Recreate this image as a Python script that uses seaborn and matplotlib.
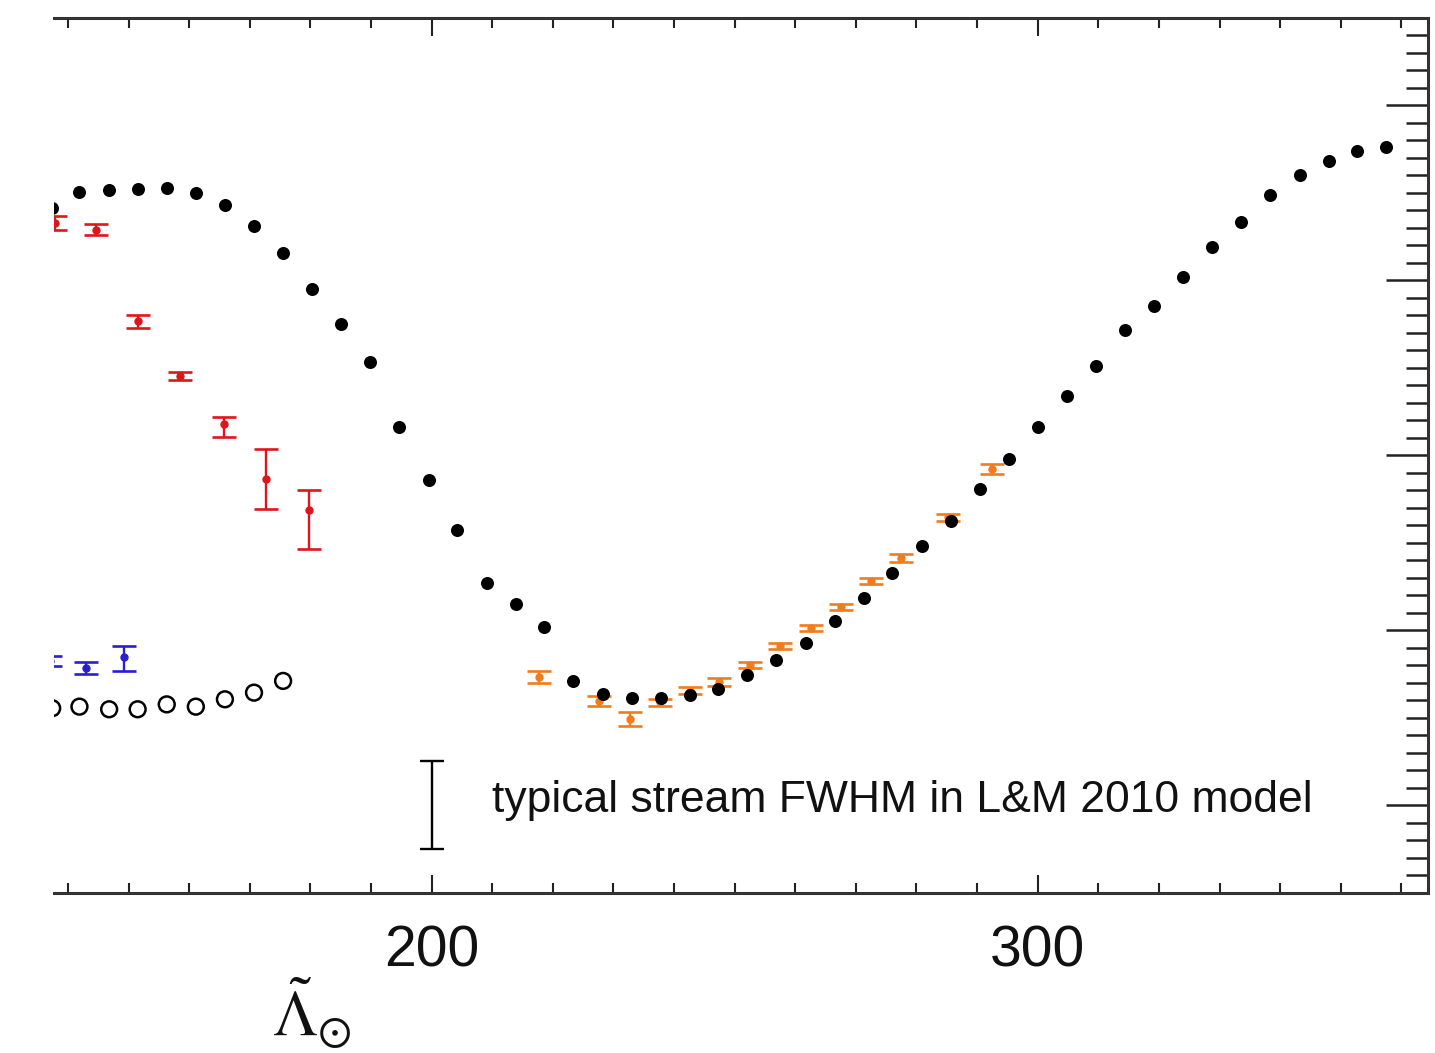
import numpy as np
import matplotlib
matplotlib.use("Agg")
import matplotlib.pyplot as plt
from matplotlib.ticker import MultipleLocator
import seaborn as sns

# Sgr stream track: main-stream positions (filled) and faint branch (open)
lam_main = [137.4, 141.9, 146.8, 151.5, 156.4, 161.2, 165.9, 170.7, 175.5, 180.2,
            185.0, 189.8, 194.6, 199.5, 204.2, 209.1, 213.9, 218.5, 223.4, 228.3,
            233.0, 237.8, 242.6, 247.3, 252.1, 256.9, 261.7, 266.6, 271.4, 276.0,
            280.9, 285.7, 290.5, 295.3, 300.1, 304.9, 309.6, 314.4, 319.2, 324.0,
            328.8, 333.6, 338.4, 343.2, 348.0, 352.7, 357.5]
val_main = [14.1, 15.03, 15.13, 15.2, 15.24, 14.99, 14.29, 13.1, 11.56, 9.47,
            7.49, 5.31, 1.6, -1.43, -4.29, -7.31, -8.51, -9.81, -12.91, -13.66,
            -13.9, -13.9, -13.71, -13.39, -12.57, -11.71, -10.77, -9.47, -8.19, -6.73,
            -5.18, -3.75, -1.96, -0.25, 1.6, 3.37, 5.09, 7.14, 8.51, 10.17,
            11.89, 13.31, 14.86, 16.0, 16.8, 17.37, 17.6]

lam_open = [137.4, 141.9, 146.8, 151.5, 156.3, 161.1, 165.9, 170.7, 175.5]
val_open = [-14.47, -14.38, -14.53, -14.53, -14.25, -14.38, -13.96, -13.58, -12.91]

# Measured stream positions with uncertainties
lam_red = [137.9, 144.6, 151.6, 158.5, 165.7, 172.7, 179.7]
val_red = [13.26, 12.86, 7.67, 4.51, 1.77, -1.37, -3.14]
err_red_lo = [0.40, 0.29, 0.43, 0.24, 0.76, 1.73, 2.25]
err_red_hi = [0.40, 0.33, 0.33, 0.24, 0.38, 1.70, 1.14]

lam_blue = [137.1, 143.0, 149.2]
val_blue = [-11.77, -12.15, -11.56]
err_blue_lo = [0.29, 0.36, 0.78]
err_blue_hi = [0.29, 0.31, 0.65]

lam_orange = [217.7, 227.7, 232.7, 237.7, 242.6, 247.4, 252.6, 257.5, 262.6, 267.5,
              272.5, 277.4, 285.2, 292.5]
val_orange = [-12.70, -14.04, -15.10, -14.13, -13.47, -12.95, -12.0, -10.90, -9.87, -8.71,
              -7.18, -5.87, -3.56, -0.80]
err_orange = [0.34, 0.29, 0.40, 0.20, 0.19, 0.23, 0.19, 0.17, 0.17, 0.17,
              0.17, 0.23, 0.19, 0.31]

# Typical model stream width marker
fwhm_lam = [200.0]
fwhm_val = [-20.0]
fwhm_half = [2.5]
fwhm_text = "typical stream FWHM in L&M 2010 model"

sns.set_theme(style="ticks")
plt.rcParams["font.family"] = ["Liberation Sans", "DejaVu Sans"]
plt.rcParams["mathtext.fontset"] = "stix"

W, H = 1435, 1053
fig = plt.figure(figsize=(W / 100, H / 100), dpi=100)
fig.patch.set_facecolor("white")
x0, x1, y_top, y_bot = 54, 1428, 17.5, 892.5
ax = fig.add_axes([x0 / W, 1 - y_bot / H, (x1 - x0) / W, (y_bot - y_top) / H])
ax.set_facecolor("white")

ebkw = dict(fmt="o", ms=5, capsize=8.5, capthick=1.9, elinewidth=1.7)
ax.errorbar(lam_red, val_red, yerr=[err_red_lo, err_red_hi], color="#e0141b", **ebkw)
ax.errorbar(lam_blue, val_blue, yerr=[err_blue_lo, err_blue_hi], color="#2a1fd0", **ebkw)
ax.errorbar(lam_orange, val_orange, yerr=err_orange, color="#f07c1e", **ebkw)

sns.scatterplot(x=lam_open, y=val_open, ax=ax, marker="o", s=130,
                facecolor="none", edgecolor="black", linewidth=1.8, zorder=4)
sns.scatterplot(x=lam_main, y=val_main, ax=ax, marker="o", s=88,
                color="black", edgecolor="black", linewidth=0, zorder=5)

ax.errorbar(fwhm_lam, fwhm_val, yerr=fwhm_half, fmt="none", color="black",
            capsize=8.5, capthick=1.7, elinewidth=1.7)
ax.text(210.0, -19.75, fwhm_text, fontsize=32, ha="left", va="center", color="#111111")

ax.set_xlim(137.7, 364.4)
ax.set_ylim(-25, 25)

ax.xaxis.set_major_locator(MultipleLocator(100))
ax.xaxis.set_minor_locator(MultipleLocator(10))
ax.yaxis.set_major_locator(MultipleLocator(10))
ax.yaxis.set_minor_locator(MultipleLocator(1))

ax.tick_params(axis="x", which="both", direction="in", top=True, bottom=True,
               labelsize=41, pad=23, color="#222222", labelcolor="#111111")
ax.tick_params(axis="x", which="major", length=13, width=1.5)
ax.tick_params(axis="x", which="minor", length=7, width=1.5)
ax.tick_params(axis="y", which="both", direction="in", left=False, right=True,
               labelleft=False, labelright=False, color="#222222")
ax.tick_params(axis="y", which="major", length=30, width=1.8)
ax.tick_params(axis="y", which="minor", length=16, width=1.8)

ax.spines["left"].set_visible(False)
for side in ("top", "bottom", "right"):
    ax.spines[side].set_linewidth(2.2)
    ax.spines[side].set_color("#333333")

ax.set_xlabel(r"$\tilde{\Lambda}_{\odot}$", fontsize=46, color="#111111")
ax.xaxis.set_label_coords(0.188, -0.095)
ax.set_ylabel("")

fig.savefig("out.png", dpi=100, facecolor="white")
